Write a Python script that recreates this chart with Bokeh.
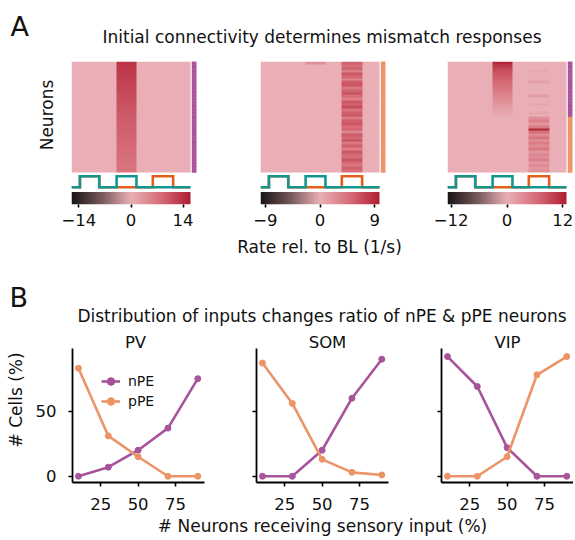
import numpy as np
from bokeh.plotting import figure
from bokeh.models import (Range1d, LinearAxis, FixedTicker, LinearColorMapper,
                          Legend, LegendItem)
from bokeh.layouts import column, row
from bokeh.core.properties import value
from bokeh.embed import file_html
from bokeh.resources import INLINE

FONT = "DejaVu Sans"

# ------------------------------------------------------------------ data
# stimulus protocol (time axis of heat maps, arbitrary units)
stim_edges = [0.0, 0.85, 2.8, 4.55, 6.55, 8.2, 10.25, 12.0]
visual_stim = [0, 1, 0, 1, 0, 0, 0]   # teal trace
motor_stim = [0, 1, 0, 0, 0, 1, 0]    # orange trace

# heat-map responses per neuron (top row first), during mismatch (window 2)
# and during playback (window 3)
h1_mismatch = [13.6, 13.4, 13.2, 13.0, 12.8, 12.6, 12.4, 12.2, 12.0, 11.8,
               11.6, 11.4, 11.2, 11.0, 10.8, 10.6, 10.4, 10.2, 10.0, 9.8,
               9.7, 9.5, 9.4, 9.2, 9.1, 8.9, 8.8, 8.6, 8.5, 8.3,
               8.2, 8.0, 7.9, 7.8, 7.6, 7.5, 7.4, 7.3, 7.2, 7.0]
h1_playback = [0.0] * 40

h2_mismatch = [2.5] + [0.0] * 39
h2_playback = [5.4, 4.6, 5.8, 3.6, 6.0, 5.1, 3.0, 5.9, 6.3, 4.2,
               5.5, 6.7, 4.9, 3.4, 6.1, 5.3, 6.8, 4.5, 5.7, 6.4,
               3.9, 5.8, 6.2, 4.8, 5.5, 3.1, 5.9, 5.1, 6.5, 4.1,
               5.7, 3.5, 6.0, 5.2, 4.6, 6.3, 4.9, 3.9, 5.6, 4.7]

h3_mismatch = [12.0, 10.5, 9.5, 8.8, 8.2, 7.6, 7.0, 6.5, 6.0, 5.4,
               4.9, 4.4, 3.9, 3.4, 2.9, 2.4, 1.9, 1.4, 0.9, 0.5,
               0.0, 0.0, 0.0, 0.0, 0.0, 0.0, 0.0, 0.0, 0.0, 0.0,
               0.0, 0.0, 0.0, 0.0, 0.0, 0.0, 0.0, 0.0, 0.0, 0.0]
h3_playback = [0.0, 0.0, 0.0, 0.8, 0.0, 0.0, 0.0, 1.5, 0.0, 0.0,
               0.0, 0.0, 1.8, 0.0, 0.0, 1.2, 0.0, 0.0, 1.0, 0.0,
               3.0, 4.5, 2.5, 5.0, 12.0, 6.0, 3.5, 5.5, 2.8, 4.8,
               3.2, 5.2, 2.5, 4.0, 3.0, 4.5, 2.2, 3.8, 2.5, 3.0]

n_npe_rows = [40, 0, 20]              # nPE neurons on top, rest pPE
cbar_limits = [16.0, 9.8, 12.8]
cbar_ticks = [[-14, 0, 14], [-9, 0, 9], [-12, 0, 12]]

# panel B
frac_sensory = [10, 30, 50, 70, 90]
pv_npe = [0, 7, 20, 37, 75]
pv_ppe = [83, 31, 15, 0, 0]
som_npe = [0, 0, 20, 60, 90]
som_ppe = [87, 56, 13, 3, 1]
vip_npe = [92, 69, 22, 0, 0]
vip_ppe = [0, 0, 15, 78, 92]
b_titles = ["PV", "SOM", "VIP"]

# ------------------------------------------------------------------ style
C_NPE = "#a8549b"
C_PPE = "#ec9468"
C_TEAL = "#12968f"
C_ORANGE = "#e2601c"

anchor_pos = [0.0, 0.25, 0.5, 0.75, 1.0]
anchor_r = [25, 118, 234, 214, 176]
anchor_g = [20, 88, 176, 108, 30]
anchor_b = [20, 90, 182, 120, 50]
_s = np.linspace(0, 1, 256)
PALETTE = ["#%02x%02x%02x" % (int(round(r)), int(round(g)), int(round(b)))
           for r, g, b in zip(np.interp(_s, anchor_pos, anchor_r),
                              np.interp(_s, anchor_pos, anchor_g),
                              np.interp(_s, anchor_pos, anchor_b))]

BASE_SHIFT = 0.35   # measured offset of the rendered baseline (in em)


def text_fig(w, h, x0, y0):
    """Blank canvas whose data units are page pixels (y negated)."""
    p = figure(width=w, height=h, x_range=Range1d(x0, x0 + w),
               y_range=Range1d(-(y0 + h), -y0), min_border=0,
               x_axis_location=None, y_axis_location=None,
               toolbar_location=None, output_backend="svg",
               outline_line_color=None)
    p.grid.visible = False
    return p


def put_text(p, x, y, s, size_px, align="center", rotated=False):
    """x, y = page position of the text baseline (pixels)."""
    d = BASE_SHIFT * size_px
    if rotated:
        x, y, angle = x - d, y, np.pi / 2
    else:
        x, y, angle = x, y - d, 0.0
    p.text(x=[x], y=[-y], text=[s], angle=angle,
           text_align=align, text_baseline="alphabetic",
           text_font=value(FONT), text_font_size=value("%gpx" % size_px),
           text_color="#111111")


# ------------------------------------------------------------------ header A
hdr_a = text_fig(573, 61, 0, 0)
put_text(hdr_a, 10, 35, "A", 27, align="left")
put_text(hdr_a, 321.5, 42, "Initial connectivity determines mismatch responses", 17)

neur = text_fig(56, 171, 0, 61)
put_text(neur, 52, 125, "Neurons", 17, rotated=True)

# ------------------------------------------------------------------ heat maps
HEAT_W, GAP_W, BAR_W = 119.0, 1.5, 4.5
FRAME_W = HEAT_W + GAP_W + BAR_W
T_END = stim_edges[-1]
T_RANGE = T_END * FRAME_W / HEAT_W
HEAT_H, FRAME_H = 111.0, 143.0
STIM_BASE, STIM_AMP, CB_H = 17.3, 11.0, 12.5

nb = 240
t_cent = (np.arange(nb) + 0.5) * T_END / nb
win2 = (t_cent >= stim_edges[3]) & (t_cent < stim_edges[4])
win3 = (t_cent >= stim_edges[5]) & (t_cent < stim_edges[6])

heat_sets = [(h1_mismatch, h1_playback), (h2_mismatch, h2_playback),
             (h3_mismatch, h3_playback)]
col_geom = [(189, 15, 49), (187, 15, 47), (141, 15, 1)]

a_figs = [neur]
for k in range(3):
    mm = np.array(heat_sets[k][0], dtype=float)
    pb = np.array(heat_sets[k][1], dtype=float)
    n = len(mm)
    arr = np.zeros((n, nb))
    arr[:, win2] += mm[:, None]
    arr[:, win3] += pb[:, None]
    lim = cbar_limits[k]
    mapper = LinearColorMapper(palette=PALETTE, low=-lim, high=lim)

    w, bl, br = col_geom[k]
    p = figure(width=w, height=171, x_range=Range1d(0, T_RANGE),
               y_range=Range1d(0, FRAME_H), min_border_left=bl,
               min_border_right=br, min_border_top=0, min_border_bottom=28,
               x_axis_location=None, y_axis_location=None,
               toolbar_location=None, output_backend="svg",
               outline_line_color=None)
    p.grid.visible = False
    p.extra_x_ranges = {"cb": Range1d(-lim, -lim + 2 * lim * FRAME_W / HEAT_W)}

    heat_bottom = FRAME_H - HEAT_H
    p.image(image=[arr[::-1]], x=0, y=heat_bottom, dw=T_END, dh=HEAT_H,
            color_mapper=mapper)

    # cell-type side bar
    row_h = HEAT_H / n
    tops = [FRAME_H - r * row_h for r in range(n)]
    bots = [t - row_h for t in tops]
    cols = [C_NPE if r < n_npe_rows[k] else C_PPE for r in range(n)]
    p.quad(left=T_END * (HEAT_W + GAP_W) / HEAT_W, right=T_RANGE,
           bottom=bots, top=tops, fill_color=cols, line_color=cols,
           line_width=0.5)

    # stimulus traces
    for vals, c in ((motor_stim, C_ORANGE), (visual_stim, C_TEAL)):
        xs, ys = [], []
        for i, v in enumerate(vals):
            xs += [stim_edges[i], stim_edges[i + 1]]
            ys += [STIM_BASE + v * STIM_AMP] * 2
        p.line(xs, ys, line_color=c, line_width=2.6, line_join="miter")

    # colour bar
    grad = np.linspace(-lim, lim, 256)[None, :]
    p.image(image=[grad], x=-lim, y=0, dw=2 * lim, dh=CB_H,
            color_mapper=mapper, x_range_name="cb")
    ax = LinearAxis(x_range_name="cb", ticker=FixedTicker(ticks=cbar_ticks[k]))
    ax.axis_line_color = None
    ax.major_tick_in = 0
    ax.major_tick_out = 3
    ax.major_tick_line_width = 1.6
    ax.minor_tick_line_color = None
    ax.major_label_standoff = 6
    ax.major_label_text_font = FONT
    ax.major_label_text_font_size = "16.5px"
    ax.major_label_text_color = "#111111"
    ax.major_label_overrides = {t: ("\u2212%d" % -t if t < 0 else "%d" % t)
                                for t in cbar_ticks[k]}
    p.add_layout(ax, "below")
    a_figs.append(p)

# ------------------------------------------------------------------ middle texts
mid = text_fig(573, 94, 0, 232)
put_text(mid, 319, 252, "Rate rel. to BL (1/s)", 17)
put_text(mid, 9, 306, "B", 27, align="left")
put_text(mid, 321.5, 321, "Distribution of inputs changes ratio of nPE & pPE neurons", 17)

# ------------------------------------------------------------------ panel B
B_ROW_H = 189
ylab = text_fig(30, B_ROW_H, 0, 326)
put_text(ylab, 21.5, 415, "# Cells (%)", 17, rotated=True)

X_LO, X_HI = 6.0, 94.5
Y_LO, Y_HI = -4.8, 98.2
AX_TOP, AX_BOT, FR_TOP = 348.0, 482.0, 326.0
PX_PER_Y = (AX_BOT - AX_TOP) / (Y_HI - Y_LO)
Y_TOP_EXT = Y_HI + (AX_TOP - FR_TOP) / PX_PER_Y
PX_PER_X = 132.0 / (X_HI - X_LO)

b_sets = [(pv_npe, pv_ppe), (som_npe, som_ppe), (vip_npe, vip_ppe)]
b_geom = [(184, 42, 10, 72), (185, 42, 11, 256), (174, 42, 0, 441)]
title_px = [135, 327, 507]
b_figs = [ylab]
for k in range(3):
    w, bl, br, fl = b_geom[k]
    p = figure(width=w, height=B_ROW_H, x_range=Range1d(X_LO, X_HI),
               y_range=Range1d(Y_LO, Y_TOP_EXT), min_border_left=bl,
               min_border_right=br, min_border_top=0,
               min_border_bottom=int(B_ROW_H - (AX_BOT - FR_TOP)),
               toolbar_location=None, output_backend="svg",
               outline_line_color=None)
    p.grid.visible = False
    for ax in (p.xaxis[0], p.yaxis[0]):
        ax.axis_line_width = 1.8
        ax.axis_line_color = "black"
        ax.major_tick_in = 0
        ax.major_tick_out = 4
        ax.major_tick_line_width = 1.6
        ax.minor_tick_line_color = None
        ax.major_label_text_font = FONT
        ax.major_label_text_font_size = "16.5px"
        ax.major_label_text_color = "#111111"
    p.yaxis.bounds = (Y_LO, Y_HI)
    p.xaxis.ticker = FixedTicker(ticks=[25, 50, 75])
    p.yaxis.ticker = FixedTicker(ticks=[0, 50])
    p.xaxis.major_label_standoff = 11
    p.yaxis.major_label_standoff = 12
    if k > 0:
        p.yaxis.major_label_text_alpha = 0

    # subplot title (baseline just above the axis top)
    tx = X_LO + (title_px[k] - fl) / PX_PER_X
    ty = Y_HI + (AX_TOP - 347.5 + BASE_SHIFT * 16.5) / PX_PER_Y
    p.text(x=[tx], y=[ty], text=[b_titles[k]], text_align="center",
           text_baseline="alphabetic", text_font=value(FONT),
           text_font_size=value("16.5px"), text_color="#111111")

    npe, ppe = b_sets[k]
    l1 = p.line(frac_sensory, npe, line_color=C_NPE, line_width=2.6)
    s1 = p.scatter(frac_sensory, npe, size=6, fill_color=C_NPE, line_color=C_NPE)
    l2 = p.line(frac_sensory, ppe, line_color=C_PPE, line_width=2.6)
    s2 = p.scatter(frac_sensory, ppe, size=6, fill_color=C_PPE, line_color=C_PPE)
    if k == 0:
        leg = Legend(items=[LegendItem(label="nPE", renderers=[l1, s1]),
                            LegendItem(label="pPE", renderers=[l2, s2])],
                     location=(29, 71), orientation="vertical")
        leg.label_text_font = FONT
        leg.label_text_font_size = "14px"
        leg.label_text_color = "#111111"
        leg.glyph_width = 19
        leg.glyph_height = 20
        leg.label_height = 20
        leg.label_standoff = 8
        leg.spacing = 0
        leg.padding = 0
        leg.margin = 0
        leg.border_line_color = None
        leg.background_fill_alpha = 0
        p.add_layout(leg, "center")
    b_figs.append(p)

XL_TOP = FR_TOP + B_ROW_H
xlab = text_fig(573, 25, 0, XL_TOP)
put_text(xlab, 322, 531, "# Neurons receiving sensory input (%)", 17)

layout = column(hdr_a, row(*a_figs), mid, row(*b_figs), xlab)

open("out.html", "w").write(file_html(layout, INLINE))
